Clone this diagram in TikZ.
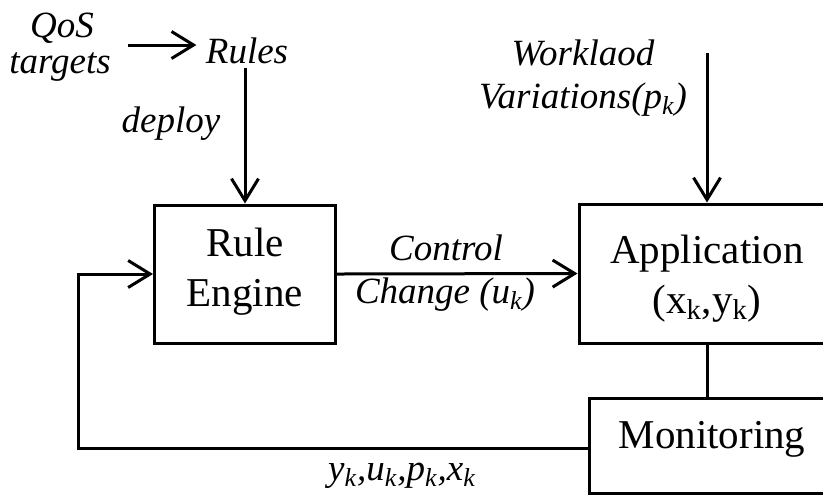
\documentclass[tikz,border=0pt]{standalone}
\usepackage{fontspec}
\setmainfont{Liberation Serif}
\usetikzlibrary{arrows.meta}
\begin{document}
\begin{tikzpicture}[x=0.5pt,y=-0.5pt,
  line width=1.5pt,
  arr/.style={-{Straight Barb[length=11pt,width=13.5pt]}},
  boxnode/.style={draw,rectangle,align=center,inner sep=0pt,font=\fontsize{20.5}{25}\selectfont},
  lbl/.style={anchor=base,inner sep=0pt,font=\fontsize{18.5}{18}\selectfont\itshape}]
\useasboundingbox (0,0) rectangle (823,495);
% boxes
\node[boxnode,minimum width=90.5pt,minimum height=69pt] (re) at (245,274) {Rule\\Engine\rule[-6.6pt]{0pt}{0pt}};
\node[boxnode,minimum width=128pt,minimum height=69.5pt] (app) at (707,273.5) {\rule{0pt}{19.6pt}Application\\(x\textsubscript{k},y\textsubscript{k})};
\node[boxnode,minimum width=123pt,minimum height=47.5pt] (mon) at (712,445.5) {Monitoring\rule[-11pt]{0pt}{0pt}};
% labels
\node[lbl] (qos1) at (62,37) {QoS};
\node[lbl] (qos2) at (60,73) {targets};
\node[lbl] (rules) at (247,63) {Rules};
\node[lbl] (deploy) at (171,132) {deploy};
\node[lbl] (wl1) at (583,65) {Worklaod};
\node[lbl] (wl2) at (583,108) {Variations(p\textsubscript{k})};
\node[lbl] (ctl1) at (446,260) {Control};
\node[lbl] (ctl2) at (445,303) {Change (u\textsubscript{k})};
\node[lbl] (fbl) at (402,480) {y\textsubscript{k},u\textsubscript{k},p\textsubscript{k},x\textsubscript{k}};
% connectors
\coordinate (qa) at (128,45);
\draw[arr] (qa) -- ([xshift=-4pt]rules.west |- qa);
\coordinate (rd) at (245,68);
\draw[arr] (rd) -- (re.north);
\coordinate (wd) at (707,53);
\draw[arr] (wd) -- (app.north);
\draw[arr] (re.east) -- (app.west);
\draw (app.south) -- (app.south |- mon.north);
\coordinate (fb) at (78,448);
\draw[arr] (mon.west |- fb) -- (fb) |- (re.west);
\end{tikzpicture}
\end{document}
